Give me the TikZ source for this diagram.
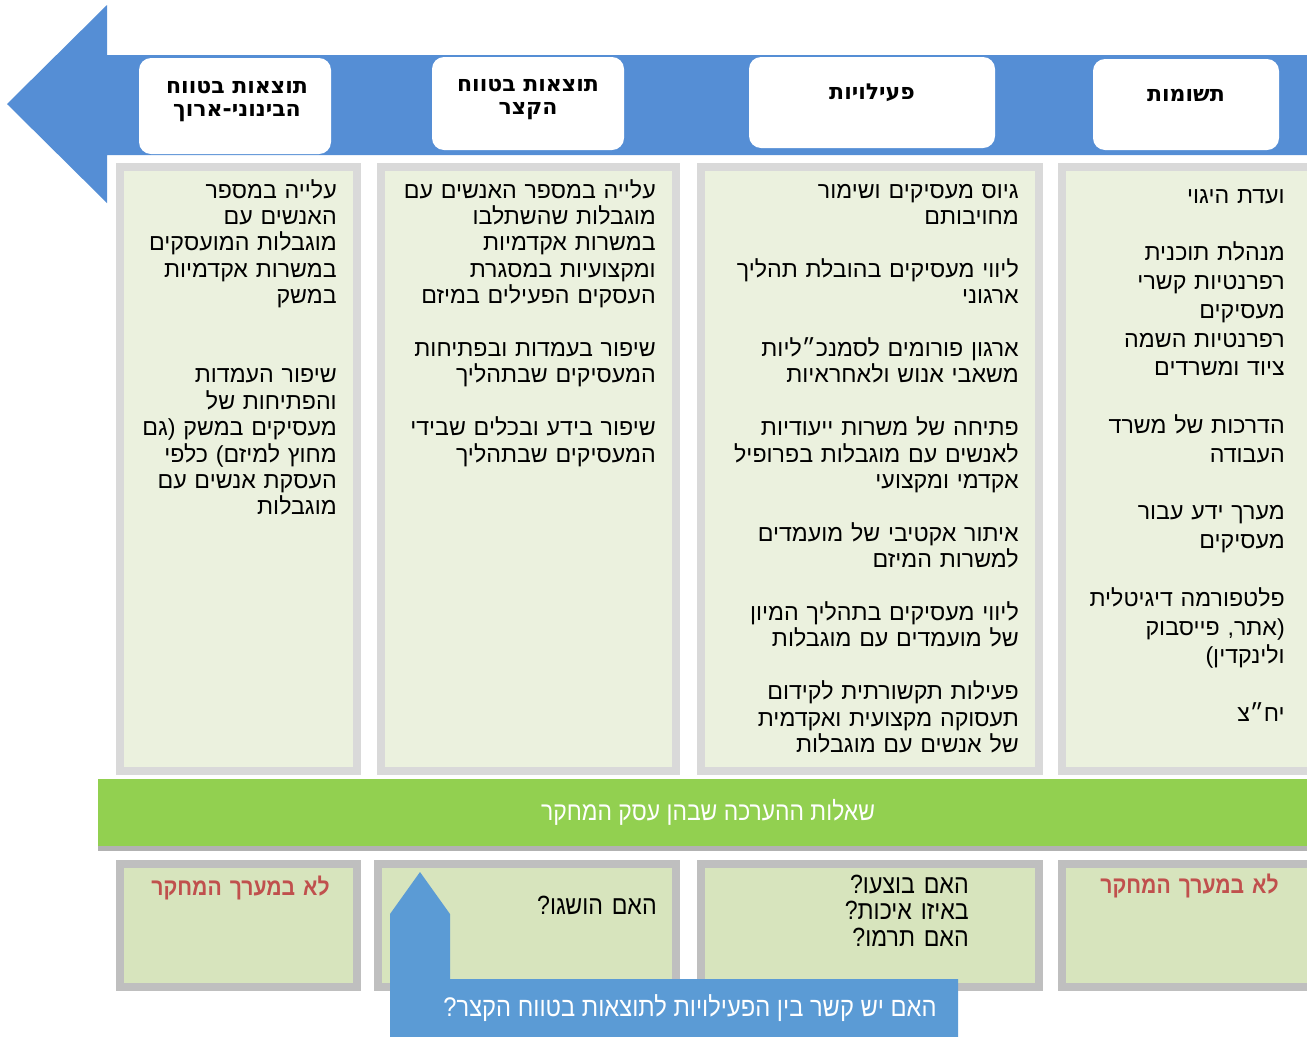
\documentclass[tikz,border=0pt]{standalone}
\usepackage{fontspec}
\usetikzlibrary{positioning,shadows}
\setmainfont{Liberation Sans}
\newfontfamily\hebfont[Script=Hebrew]{Liberation Sans}
\newfontfamily\hebnarrow[Script=Hebrew,FakeStretch=0.88]{Liberation Sans}
\newfontfamily\hebhead[Script=Hebrew]{DejaVu Sans}
\TeXXeTstate=1
\newcommand{\heb}[1]{\beginR #1\endR}
\definecolor{arrowBlue}{RGB}{85,142,213}
\definecolor{calloutBlue}{RGB}{91,155,213}
\definecolor{colGray}{RGB}{217,217,217}
\definecolor{colFill}{RGB}{235,241,222}
\definecolor{qGray}{RGB}{191,191,191}
\definecolor{qFill}{RGB}{215,228,189}
\definecolor{bandGreen}{RGB}{146,208,80}
\definecolor{noteRed}{RGB}{192,80,77}

\begin{document}
\begin{tikzpicture}[x=0.75pt,y=-0.75pt,
  hdrbox/.style={fill=white,rounded corners=9pt,inner sep=0pt},
  hdrtext/.style={font=\hebhead\bfseries\fontsize{16.5}{17.25}\selectfont,align=center,inner sep=0pt},
  colbox/.style={draw=colGray,line width=6pt,fill=colFill,inner sep=0pt,minimum height=453pt},
  coltext/.style={font=\hebfont\fontsize{17.4}{19.8}\selectfont,text width=230pt,align=right,inner sep=0pt,anchor=base east},
  qbox/.style={draw=qGray,line width=6pt,fill=qFill,inner sep=0pt,minimum height=92.25pt},
  qtext/.style={font=\hebnarrow\fontsize{19.75}{19.9}\selectfont,text width=200pt,align=right,inner sep=0pt,anchor=base east},
  qnote/.style={qtext,font=\hebnarrow\bfseries\fontsize{18}{19.9}\selectfont,text=noteRed},
  bandtext/.style={font=\hebnarrow\fontsize{19.5}{22}\selectfont,text=white}]
  \useasboundingbox (0,0) rectangle (1307,1036);

  % timeline arrow
  \fill[arrowBlue] (1320,55) -- (107,55) -- (107,5) -- (7,104) -- (107,203) -- (107,155) -- (1320,155) -- cycle;

  \node[hdrbox,minimum width=144pt,minimum height=72pt] (hdrlong) at (235,106) {};
  \node[hdrbox,minimum width=144pt,minimum height=69.75pt] (hdrshort) at (528,103.5) {};
  \node[hdrbox,minimum width=184.5pt,minimum height=68.25pt] (hdract) at (872,102.5) {};
  \node[hdrbox,minimum width=139.5pt,minimum height=68.25pt] (hdrin) at (1186,104.5) {};
  \node[hdrtext] (longlbl) at (237,101.5) {\heb{תוצאות בטווח}\\\heb{הבינוני-ארוך}};
  \node[hdrtext] (shortlbl) at (528,99.5) {\heb{תוצאות בטווח}\\\heb{הקצר}};
  \node[hdrtext] (actlbl) at (872,93) {\heb{פעילויות}};
  \node[hdrtext] (inlbl) at (1186,95) {\heb{תשומות}};

  % columns
  \node[colbox,minimum width=177.75pt] (collong) at (238.5,469) {};
  \node[colbox,minimum width=221.25pt] (colshort) at (528.5,469) {};
  \node[colbox,minimum width=253.5pt] (colact) at (870,469) {};
  \node[colbox,minimum width=187.5pt] (colin) at (1187,469) {};

  \node[coltext] (longitems) at (337,198) {%
    \heb{עלייה במספר}\\\heb{האנשים עם}\\\heb{מוגבלות המועסקים}\\\heb{במשרות אקדמיות}\\\heb{במשק}\\[39.6pt]
    \heb{שיפור העמדות}\\\heb{והפתיחות של}\\\heb{מעסיקים במשק (גם}\\\heb{מחוץ למיזם) כלפי}\\\heb{העסקת אנשים עם}\\\heb{מוגבלות}};
  \node[coltext] (shortitems) at (656,198) {%
    \heb{עלייה במספר האנשים עם}\\\heb{מוגבלות שהשתלבו}\\\heb{במשרות אקדמיות}\\\heb{ומקצועיות במסגרת}\\\heb{העסקים הפעילים במיזם}\\[19.8pt]
    \heb{שיפור בעמדות ובפתיחות}\\\heb{המעסיקים שבתהליך}\\[19.8pt]
    \heb{שיפור בידע ובכלים שבידי}\\\heb{המעסיקים שבתהליך}};
  \node[coltext] (actitems) at (1019,198) {%
    \heb{גיוס מעסיקים ושימור}\\\heb{מחויבותם}\\[19.8pt]
    \heb{ליווי מעסיקים בהובלת תהליך}\\\heb{ארגוני}\\[19.8pt]
    \heb{ארגון פורומים לסמנכ״ליות}\\\heb{משאבי אנוש ולאחראיות}\\[19.8pt]
    \heb{פתיחה של משרות ייעודיות}\\\heb{לאנשים עם מוגבלות בפרופיל}\\\heb{אקדמי ומקצועי}\\[19.8pt]
    \heb{איתור אקטיבי של מועמדים}\\\heb{למשרות המיזם}\\[19.8pt]
    \heb{ליווי מעסיקים בתהליך המיון}\\\heb{של מועמדים עם מוגבלות}\\[19.8pt]
    \heb{פעילות תקשורתית לקידום}\\\heb{תעסוקה מקצועית ואקדמית}\\\heb{של אנשים עם מוגבלות}};
  \node[coltext,font=\hebfont\fontsize{17.4}{21.6}\selectfont] (initems) at (1285,203) {%
    \heb{ועדת היגוי}\\[21.6pt]
    \heb{מנהלת תוכנית}\\\heb{רפרנטיות קשרי}\\\heb{מעסיקים}\\\heb{רפרנטיות השמה}\\\heb{ציוד ומשרדים}\\[21.6pt]
    \heb{הדרכות של משרד}\\\heb{העבודה}\\[21.6pt]
    \heb{מערך ידע עבור}\\\heb{מעסיקים}\\[21.6pt]
    \heb{פלטפורמה דיגיטלית}\\\heb{(אתר, פייסבוק}\\\heb{ולינקדין)}\\[21.6pt]
    \heb{יח״צ}};

  % evaluation questions
  \node[fill=bandGreen,minimum width=915pt,minimum height=50.25pt,inner sep=0pt,
    drop shadow={shadow xshift=0pt,shadow yshift=-4pt,opacity=0.3,fill=black},bandtext] (band) at (708,812.5) {\heb{שאלות ההערכה שבהן עסק המחקר}};

  \node[qbox,minimum width=177.75pt] (qlong) at (238.5,925.5) {};
  \node[qbox,minimum width=223.5pt] (qshort) at (527,925.5) {};
  \node[qbox,minimum width=253.5pt] (qact) at (870,925.5) {};
  \node[qbox,minimum width=190.5pt] (qin) at (1189,925.5) {};

  \node[qnote] (longnote) at (330,895) {\heb{לא במערך המחקר}};
  \node[qnote] (innote) at (1279,893) {\heb{לא במערך המחקר}};
  \node[qtext] (shortq) at (657,914) {\heb{האם הושגו?}};
  \node[qtext] (actq) at (969,893) {\heb{האם בוצעו?}\\\heb{באיזו איכות?}\\\heb{האם תרמו?}};

  % link question
  \fill[calloutBlue] (420,872) -- (450,914) -- (450,979) -- (958,979) -- (958,1040) -- (390,1040) -- (390,914) -- cycle;
  \node[bandtext,font=\hebnarrow\fontsize{20.2}{22}\selectfont] (linkq) at (690,1008) {\heb{האם יש קשר בין הפעילויות לתוצאות בטווח הקצר?}};
\end{tikzpicture}
\end{document}
